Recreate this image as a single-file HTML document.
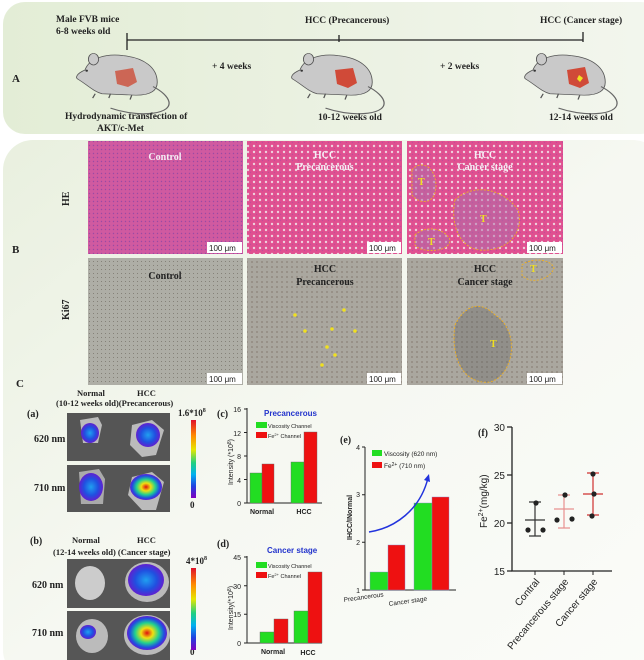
<!DOCTYPE html>
<html><head><meta charset="utf-8"><style>
body{margin:0;background:#fff;}
svg{display:block;font-family:"Liberation Serif",serif;}
.s{font-family:"Liberation Sans",sans-serif;}
</style></head><body>
<svg width="644" height="660" viewBox="0 0 644 660" xmlns="http://www.w3.org/2000/svg">
<defs>
<linearGradient id="ga" x1="0" x2="1" y1="0" y2="0"><stop offset="0" stop-color="#e3edd6"/><stop offset="1" stop-color="#f3f6ee"/></linearGradient>
<linearGradient id="gb" x1="0" x2="1" y1="0" y2="1"><stop offset="0" stop-color="#e9f0df"/><stop offset="0.5" stop-color="#f6f8f2"/><stop offset="1" stop-color="#fbfcf9"/></linearGradient>
<linearGradient id="cb" x1="0" x2="0" y1="0" y2="1"><stop offset="0" stop-color="#e0102a"/><stop offset="0.2" stop-color="#ff8a00"/><stop offset="0.38" stop-color="#e6e600"/><stop offset="0.55" stop-color="#20d080"/><stop offset="0.7" stop-color="#00b0f0"/><stop offset="0.85" stop-color="#2040e0"/><stop offset="1" stop-color="#8000c0"/></linearGradient>
<radialGradient id="hot"><stop offset="0" stop-color="#e01010"/><stop offset="0.3" stop-color="#f0e010"/><stop offset="0.6" stop-color="#20d090"/><stop offset="0.85" stop-color="#2050e0"/><stop offset="1" stop-color="#6020d0"/></radialGradient>
<radialGradient id="blu"><stop offset="0" stop-color="#20a0f0"/><stop offset="0.6" stop-color="#2050e0"/><stop offset="1" stop-color="#6020d0"/></radialGradient>
<pattern id="he" width="4" height="4" patternUnits="userSpaceOnUse"><rect width="4" height="4" fill="#d05aa0"/><circle cx="1.5" cy="1.5" r="0.7" fill="#9a4aa4"/></pattern>
<pattern id="he2" width="6" height="6" patternUnits="userSpaceOnUse"><rect width="6" height="6" fill="#e05090"/><circle cx="2" cy="2" r="1.2" fill="#eed0de"/><circle cx="4.5" cy="4.5" r="0.7" fill="#c04c9a"/></pattern>
<pattern id="ki" width="4" height="4" patternUnits="userSpaceOnUse"><rect width="4" height="4" fill="#aeaea6"/><circle cx="1.5" cy="1.5" r="0.5" fill="#77736a"/></pattern>
<pattern id="ki2" width="5" height="5" patternUnits="userSpaceOnUse"><rect width="5" height="5" fill="#aaa79f"/><circle cx="2" cy="2" r="0.6" fill="#6a5a50"/></pattern>
<g id="mouse">
<path d="M0,25 C5,8 25,2 45,5 C70,8 85,22 85,42 C85,55 75,60 60,60 L20,58 C10,55 2,45 -8,38 C-12,36 -10,30 0,25Z" fill="#c9c9c9" stroke="#555" stroke-width="1"/>
<ellipse cx="10" cy="10" rx="6" ry="8" fill="#c9c9c9" stroke="#555" stroke-width="1"/>
<circle cx="2" cy="26" r="1.5" fill="#333"/>
<path d="M80,48 C100,60 110,80 80,85 C60,88 40,82 30,78" fill="none" stroke="#666" stroke-width="1.5"/>
<path d="M12,58 l-3,6 M30,58 l-2,6 M55,60 l-2,6" stroke="#555" stroke-width="1.5"/>
</g>
</defs>
<rect x="0" y="0" width="644" height="660" fill="#fff"/>
<rect x="3" y="2" width="660" height="132" rx="22" fill="url(#ga)"/>
<rect x="3" y="140" width="660" height="540" rx="30" fill="url(#gb)"/>

<!-- Panel A -->
<use href="#mouse" transform="translate(85,52) scale(0.85,0.72)"/>
<path d="M115,71 L133,68 L137,82 L128,87 L117,84Z" fill="#cc6655"/>
<use href="#mouse" transform="translate(300,52) scale(0.85,0.72)"/>
<path d="M335,70 L353,68 L357,83 L348,88 L337,84Z" fill="#d04a38"/>
<use href="#mouse" transform="translate(533,52) scale(0.85,0.72)"/>
<path d="M567,70 L585,67 L589,83 L580,88 L569,84Z" fill="#d04a38"/>
<path d="M579,75 l4,3 -3,4 -3,-3z" fill="#f0e020"/>
<g font-weight="bold" font-size="9.5" fill="#222">
<text x="56" y="22">Male FVB mice</text>
<text x="56" y="34">6-8 weeks old</text>
<text x="305" y="23">HCC (Precancerous)</text>
<text x="540" y="23">HCC (Cancer stage)</text>
<text x="212" y="69">+ 4 weeks</text>
<text x="440" y="69">+ 2 weeks</text>
<text x="12" y="82" font-size="11">A</text>
<text x="65" y="119">Hydrodynamic transfection of</text>
<text x="97" y="131">AKT/c-Met</text>
<text x="318" y="120">10-12 weeks old</text>
<text x="549" y="120">12-14 weeks old</text>
</g>
<path d="M127,40 H583 M127,33 V50 M339,35 V42 M583,32 V42" stroke="#222" stroke-width="1.3" fill="none"/>

<!-- Panel B -->
<rect x="88" y="141" width="155" height="113" fill="url(#he)"/>
<rect x="247" y="141" width="155" height="113" fill="url(#he2)"/>
<rect x="407" y="141" width="156" height="113" fill="url(#he2)"/>
<rect x="88" y="258" width="155" height="127" fill="url(#ki)"/>
<rect x="247" y="258" width="155" height="127" fill="url(#ki2)"/>
<rect x="407" y="258" width="156" height="127" fill="url(#ki2)"/>
<g fill="none" stroke="#f0b020" stroke-width="0.9" stroke-dasharray="2,1.5">
<path d="M412,170 C420,160 435,165 436,185 C436,205 420,205 412,195Z" fill="rgba(170,110,170,0.5)"/>
<path d="M455,200 C470,185 500,185 518,210 C525,235 505,252 480,250 C460,248 450,225 455,200Z" fill="rgba(170,110,170,0.5)"/>
<path d="M415,235 C425,225 445,228 450,240 C450,253 420,253 415,245Z" fill="rgba(170,110,170,0.5)"/>
<path d="M455,325 C465,305 480,300 495,315 C520,330 515,375 490,382 C465,385 450,360 455,325Z" fill="rgba(90,90,90,0.3)"/>
<path d="M522,265 C530,258 550,258 554,268 C550,280 530,285 522,275Z"/>
</g>
<g fill="#f0e020" font-weight="bold" font-size="10"><text x="418" y="185">T</text><text x="480" y="222">T</text><text x="428" y="245">T</text><text x="490" y="347">T</text><text x="530" y="272">T</text></g>
<g fill="#f0e020"><circle cx="295" cy="315" r="1.8"/><circle cx="305" cy="331" r="1.8"/><circle cx="332" cy="329" r="1.8"/><circle cx="344" cy="310" r="1.8"/><circle cx="327" cy="347" r="1.8"/><circle cx="335" cy="355" r="1.8"/><circle cx="322" cy="365" r="1.8"/><circle cx="355" cy="331" r="1.8"/></g>
<g font-size="10" font-weight="bold" fill="#f5eef5" text-anchor="middle">
<text x="165" y="160">Control</text><text x="325" y="158">HCC</text><text x="325" y="170">Precancerous</text>
<text x="485" y="158">HCC</text><text x="485" y="170">Cancer stage</text>
</g>
<g font-size="10" font-weight="bold" fill="#222" text-anchor="middle">
<text x="165" y="279">Control</text><text x="325" y="272">HCC</text><text x="325" y="285">Precancerous</text>
<text x="485" y="272">HCC</text><text x="485" y="285">Cancer stage</text>
</g>
<g class="s" font-size="8" fill="#222">
<rect x="207" y="242" width="35" height="11" fill="#fff"/><text x="209" y="251">100 μm</text>
<rect x="367" y="242" width="34" height="11" fill="#fff"/><text x="369" y="251">100 μm</text>
<rect x="527" y="242" width="35" height="11" fill="#fff"/><text x="529" y="251">100 μm</text>
<rect x="207" y="373" width="35" height="11" fill="#fff"/><text x="209" y="382">100 μm</text>
<rect x="367" y="373" width="34" height="11" fill="#fff"/><text x="369" y="382">100 μm</text>
<rect x="527" y="373" width="35" height="11" fill="#fff"/><text x="529" y="382">100 μm</text>
</g>
<g font-weight="bold" font-size="10" fill="#222">
<text transform="translate(69,206) rotate(-90)">HE</text>
<text transform="translate(69,320) rotate(-90)">Ki67</text>
<text x="12" y="253" font-size="11">B</text>
<text x="16" y="387" font-size="11">C</text>
</g>

<!-- Panel C images -->
<g font-weight="bold" fill="#222" font-size="8.5">
<text x="77" y="396">Normal</text><text x="137" y="396">HCC</text>
<text x="56" y="406">(10-12 weeks old)(Precancerous)</text>
<text x="27" y="417" font-size="10">(a)</text>
<text x="34" y="442" font-size="10">620 nm</text>
<text x="34" y="491" font-size="10">710 nm</text>
<text x="178" y="416" font-size="9">1.6*10<tspan font-size="6" dy="-4">8</tspan></text>
<text x="190" y="508" font-size="9">0</text>
<text x="30" y="544" font-size="10">(b)</text>
<text x="72" y="543">Normal</text><text x="137" y="543">HCC</text>
<text x="53" y="555">(12-14 weeks old)  (Cancer stage)</text>
<text x="32" y="588" font-size="10">620 nm</text>
<text x="32" y="636" font-size="10">710 nm</text>
<text x="186" y="564" font-size="9">4*10<tspan font-size="6" dy="-4">8</tspan></text>
<text x="190" y="655" font-size="9">0</text>
<text x="217" y="417" font-size="10">(c)</text>
<text x="217" y="547" font-size="10">(d)</text>
<text x="340" y="443" font-size="10">(e)</text>
<text x="478" y="436" font-size="10">(f)</text>
</g>
<rect x="67" y="413" width="103" height="48" fill="#555"/>
<rect x="67" y="465" width="103" height="47" fill="#555"/>
<rect x="67" y="559" width="103" height="49" fill="#565656"/>
<rect x="67" y="611" width="103" height="49" fill="#565656"/>
<rect x="191" y="420" width="5" height="78" fill="url(#cb)"/>
<rect x="191" y="568" width="5" height="82" fill="url(#cb)"/>
<path d="M80,420 l18,-3 4,8 -4,18 -15,0z" fill="#bbb"/><ellipse cx="90" cy="433" rx="9" ry="10" fill="url(#blu)"/>
<path d="M132,425 l20,-5 12,10 -8,25 -14,2 -12,-12z" fill="#bbb"/><ellipse cx="148" cy="435" rx="12" ry="12" fill="url(#blu)"/>
<path d="M79,472 l20,-3 6,10 -2,25 -22,0z" fill="#aaa"/><ellipse cx="91" cy="487" rx="12" ry="14" fill="url(#blu)"/>
<path d="M132,477 l20,-5 12,10 -8,28 -14,0 -14,-15z" fill="#bbb"/><ellipse cx="146" cy="487" rx="16" ry="13" fill="url(#hot)"/>
<ellipse cx="90" cy="583" rx="15" ry="17" fill="#ccc"/>
<ellipse cx="147" cy="582" rx="22" ry="20" fill="#bbb"/><ellipse cx="146" cy="580" rx="18" ry="16" fill="url(#blu)"/>
<ellipse cx="92" cy="636" rx="16" ry="17" fill="#bbb"/><ellipse cx="88" cy="632" rx="8" ry="7" fill="url(#blu)"/>
<ellipse cx="147" cy="635" rx="23" ry="20" fill="#bbb"/><ellipse cx="147" cy="633" rx="20" ry="17" fill="url(#hot)"/>

<!-- (c) -->
<g class="s" font-size="7" fill="#222">
<path d="M247,408 V503 H322" stroke="#222" fill="none"/>
<path d="M244,409 h3 M244,432.5 h3 M244,456 h3 M244,479.5 h3 M244,503 h3" stroke="#222"/>
<text x="241" y="412" text-anchor="end">16</text><text x="241" y="436" text-anchor="end">12</text><text x="241" y="459" text-anchor="end">8</text><text x="241" y="483" text-anchor="end">4</text><text x="241" y="506" text-anchor="end">0</text>
<rect x="250" y="473" width="12" height="30" fill="#22dd22" stroke="#666" stroke-width="0.4"/>
<rect x="262" y="464" width="12" height="39" fill="#ee1111" stroke="#666" stroke-width="0.4"/>
<rect x="291" y="462" width="13" height="41" fill="#22dd22" stroke="#666" stroke-width="0.4"/>
<rect x="304" y="432" width="13" height="71" fill="#ee1111" stroke="#666" stroke-width="0.4"/>
<text x="262" y="514" text-anchor="middle" font-weight="bold">Normal</text><text x="304" y="514" text-anchor="middle" font-weight="bold">HCC</text>
<text x="264" y="416" fill="#2233cc" font-weight="bold" font-size="8">Precancerous</text>
<rect x="256" y="422" width="11" height="6" fill="#22dd22"/><text x="268" y="428" font-size="5.5">Viscosity Channel</text>
<rect x="256" y="432" width="11" height="6" fill="#ee1111"/><text x="268" y="438" font-size="5.5">Fe<tspan dy="-2" font-size="4">2+</tspan><tspan dy="2"> Channel</tspan></text>
<text transform="translate(233,485) rotate(-90)" font-size="7">Intensity (*10<tspan dy="-2" font-size="5">8</tspan><tspan dy="2">)</tspan></text>
</g>
<!-- (d) -->
<g class="s" font-size="7" fill="#222">
<path d="M247,556 V643 H322" stroke="#222" fill="none"/>
<path d="M244,557 h3 M244,585.7 h3 M244,614.3 h3 M244,643 h3" stroke="#222"/>
<text x="241" y="560" text-anchor="end">45</text><text x="241" y="589" text-anchor="end">30</text><text x="241" y="617" text-anchor="end">15</text><text x="241" y="646" text-anchor="end">0</text>
<rect x="260" y="632" width="14" height="11" fill="#22dd22" stroke="#666" stroke-width="0.4"/>
<rect x="274" y="619" width="14" height="24" fill="#ee1111" stroke="#666" stroke-width="0.4"/>
<rect x="294" y="611" width="14" height="32" fill="#22dd22" stroke="#666" stroke-width="0.4"/>
<rect x="308" y="572" width="14" height="71" fill="#ee1111" stroke="#666" stroke-width="0.4"/>
<text x="273" y="654" text-anchor="middle" font-weight="bold">Normal</text><text x="308" y="655" text-anchor="middle" font-weight="bold">HCC</text>
<text x="267" y="553" fill="#2233cc" font-weight="bold" font-size="8">Cancer stage</text>
<rect x="256" y="562" width="11" height="6" fill="#22dd22"/><text x="268" y="568" font-size="5.5">Viscosity Channel</text>
<rect x="256" y="572" width="11" height="6" fill="#ee1111"/><text x="268" y="578" font-size="5.5">Fe<tspan dy="-2" font-size="4">2+</tspan><tspan dy="2"> Channel</tspan></text>
<text transform="translate(233,630) rotate(-90)" font-size="7">Intensity(*10<tspan dy="-2" font-size="5">8</tspan><tspan dy="2">)</tspan></text>
</g>
<!-- (e) -->
<g class="s" font-size="7" fill="#222">
<path d="M365,447 V590 H456" stroke="#222" fill="none"/>
<path d="M362,447 h3 M362,494.7 h3 M362,542.3 h3 M362,590 h3" stroke="#222"/>
<text x="360" y="450" text-anchor="end">4</text><text x="360" y="497" text-anchor="end">3</text><text x="360" y="545" text-anchor="end">2</text><text x="360" y="593" text-anchor="end">1</text>
<rect x="370" y="572" width="18" height="18" fill="#22dd22" stroke="#8888cc" stroke-width="0.4"/>
<rect x="388" y="545" width="17" height="45" fill="#ee1111" stroke="#8888cc" stroke-width="0.4"/>
<rect x="414" y="503" width="18" height="87" fill="#22dd22" stroke="#8888cc" stroke-width="0.4"/>
<rect x="432" y="497" width="17" height="93" fill="#ee1111" stroke="#8888cc" stroke-width="0.4"/>
<rect x="372" y="450" width="10" height="6" fill="#22dd22"/><text x="384" y="456" font-size="6.5">Viscosity (620 nm)</text>
<rect x="372" y="462" width="10" height="6" fill="#ee1111"/><text x="384" y="468" font-size="6.5">Fe<tspan dy="-2" font-size="5">2+</tspan><tspan dy="2"> (710 nm)</tspan></text>
<path d="M369,532 C395,528 420,510 428,478" stroke="#2233dd" stroke-width="1.5" fill="none"/>
<path d="M424,480 l5,-6 1,8z" fill="#2233dd"/>
<text transform="translate(344,602) rotate(-8)" font-size="6.5">Precancerous</text>
<text transform="translate(389,606) rotate(-8)" font-size="6.5">Cancer stage</text>
<text transform="translate(352,540) rotate(-90)" font-size="7" font-weight="bold">IHCC/INormal</text>
</g>
<!-- (f) -->
<g class="s" fill="#222">
<path d="M512,427 V571 H612" stroke="#222" stroke-width="1.3" fill="none"/>
<path d="M507,427 h5 M507,475 h5 M507,523 h5 M507,571 h5" stroke="#222" stroke-width="1.3"/>
<g font-size="10" text-anchor="end"><text x="505" y="431">30</text><text x="505" y="479">25</text><text x="505" y="527">20</text><text x="505" y="575">15</text></g>
<text transform="translate(487,528) rotate(-90)" font-size="10">Fe<tspan dy="-4" font-size="7">2+</tspan><tspan dy="4">(mg/kg)</tspan></text>
<path d="M535,502 V536 M529,502 h12 M525,520 h20 M529,536 h12" stroke="#333" stroke-width="1.2"/>
<circle cx="536" cy="503" r="2.6"/><circle cx="528" cy="530" r="2.6"/><circle cx="543" cy="530" r="2.6"/>
<path d="M564,495 V528 M558,495 h12 M554,509 h20 M558,528 h12" stroke="#e89090" stroke-width="1.2"/>
<circle cx="565" cy="495" r="2.6"/><circle cx="557" cy="520" r="2.6"/><circle cx="572" cy="519" r="2.6"/>
<path d="M593,473 V515 M587,473 h12 M583,494 h20 M587,515 h12" stroke="#d03030" stroke-width="1.2"/>
<circle cx="593" cy="474" r="2.6"/><circle cx="594" cy="494" r="2.6"/><circle cx="592" cy="516" r="2.6"/>
<path d="M535,571 v4 M564,571 v4 M593,571 v4" stroke="#222"/>
<g font-size="10" text-anchor="end">
<text transform="translate(540,582) rotate(-50)">Contral</text>
<text transform="translate(569,582) rotate(-50)">Precancerous stage</text>
<text transform="translate(598,582) rotate(-50)">Cancer stage</text>
</g>
</g>
</svg>
</body></html>
